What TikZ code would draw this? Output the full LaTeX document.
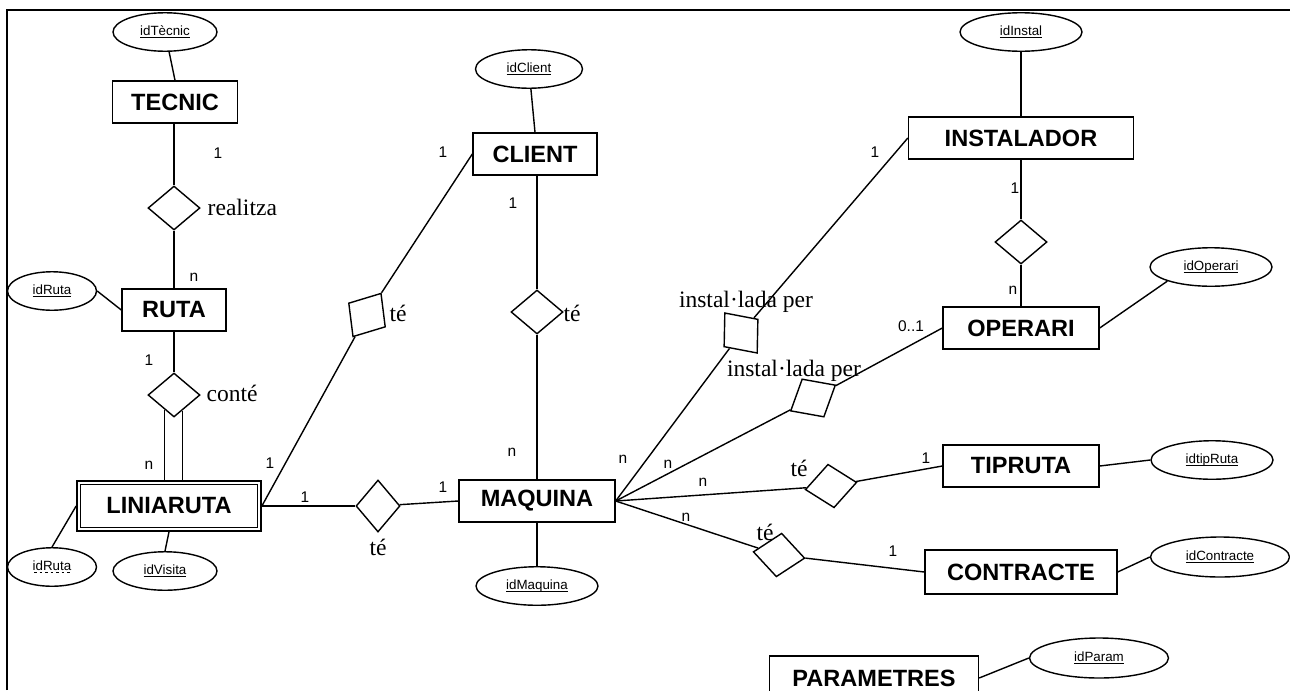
\documentclass[tikz,border=0pt]{standalone}
\usepackage{fontspec}
\setmainfont{Liberation Serif}
\setsansfont{Liberation Sans}
\usetikzlibrary{shapes.geometric,calc}
\newcommand{\keyund}[1]{\setbox0=\hbox{#1}\rlap{\rule[-1.4pt]{\wd0}{0.45pt}}\box0}
\newcommand{\dashund}[1]{\setbox0=\hbox{#1}\rlap{\raisebox{-1.4pt}{\hbox to\wd0{\xleaders\hbox to 3pt{\hss\vrule height 0.45pt width 1.6pt\hss}\hfil}}}\box0}

\begin{document}
\begin{tikzpicture}[x=0.02cm,y=-0.02cm,line width=0.8pt,
  ent/.style={draw,rectangle,minimum height=0.84cm,font=\sffamily\bfseries\fontsize{13.4}{15}\selectfont},
  attr/.style={draw,ellipse,minimum width=2.44cm,minimum height=0.77cm,font=\sffamily\fontsize{7.6}{9}\selectfont},
  rel/.style={draw,diamond,minimum width=1.04cm,minimum height=0.88cm},
  card/.style={font=\sffamily\fontsize{8.8}{10}\selectfont},
  rlab/.style={font=\fontsize{13.4}{15}\selectfont}]
\tikzstyle{every node}+=[inner sep=0pt]
\useasboundingbox (0,0) rectangle (1290,690);
\clip (0,0) rectangle (1290,690);
\draw[line width=1.4pt] (7,690) -- (7,10) -- (1290,10);
\node[ent,minimum width=2.5cm] (tecnic) at (175,102) {TECNIC};
\node[ent,minimum width=2.08cm] (ruta) at (174,310) {RUTA};
\node[ent,double,double distance=1.4pt,minimum width=3.61cm,minimum height=0.93cm,outer sep=1.5pt] (liniaruta) at (169,506) {LINIARUTA};
\node[ent,minimum width=2.48cm] (client) at (535,154) {CLIENT};
\node[ent,minimum width=3.12cm] (maquina) at (537,501) {MAQUINA};
\node[ent,minimum width=4.5cm] (instalador) at (1021,138) {INSTALADOR};
\node[ent,minimum width=3.12cm] (operari) at (1021,328) {OPERARI};
\node[ent,minimum width=3.12cm] (tipruta) at (1021,466) {TIPRUTA};
\node[ent,minimum width=3.84cm,minimum height=0.88cm] (contracte) at (1021,572) {CONTRACTE};
\node[ent,minimum width=4.18cm,minimum height=0.88cm] (parametres) at (874,678) {PARAMETRES};
\node[attr,minimum width=2.08cm] (idtecnic) at (165,32) {\keyund{idTècnic}};
\node[attr,minimum width=1.78cm] (idruta) at (52,291) {\keyund{idRuta}};
\node[attr,minimum width=1.78cm] (idruta2) at (52,567) {\dashund{idRuta}};
\node[attr,minimum width=2.08cm] (idvisita) at (165,571) {\keyund{idVisita}};
\node[attr,minimum width=2.14cm] (idclient) at (529,69) {\keyund{idClient}};
\node[attr] (idmaquina) at (537,586) {\keyund{idMaquina}};
\node[attr] (idinstal) at (1021,32) {\keyund{idInstal}};
\node[attr] (idoperari) at (1211,267) {\keyund{idOperari}};
\node[attr] (idtipruta) at (1212,460) {\keyund{idtipRuta}};
\node[attr,minimum width=2.78cm,minimum height=0.8cm] (idcontracte) at (1220,557) {\keyund{idContracte}};
\node[attr,minimum width=2.78cm,minimum height=0.8cm] (idparam) at (1099,658) {\keyund{idParam}};
\node[rel] (realitza) at (174,208) {};
\node[rel] (conte) at (174,395) {};
\node[rel,rotate=57] (te1) at (367,315) {};
\node[rel] (te2) at (537,312) {};
\node[rel,rotate=90] (te3) at (378,506) {};
\node[rel,rotate=129] (instper1) at (741,333) {};
\node[rel,rotate=30] (instper2) at (813,398) {};
\node[rel] (relop) at (1021,242) {};
\node[rel,rotate=8] (te4) at (831,486) {};
\node[rel,rotate=-7] (te5) at (779,555) {};
\node[rlab,anchor=west] (lrealitza) at (207,207) {realitza};
\node[rlab,anchor=west] (lconte) at (206,393) {conté};
\node[rlab] (lte1) at (398,313) {té};
\node[rlab] (lte2) at (572,313) {té};
\node[rlab] (lte3) at (378,547) {té};
\node[rlab] (linstper1) at (746,302) {instal·lada per};
\node[rlab] (linstper2) at (794,371) {instal·lada per};
\node[rlab] (lte4) at (799,468) {té};
\node[rlab] (lte5) at (765,532) {té};
\node[card] (c1) at (218,153) {1};
\node[card] (c2) at (194,277) {n};
\node[card] (c3) at (149,360) {1};
\node[card] (c4) at (149,465) {n};
\node[card] (c5) at (270,463) {1};
\node[card] (c6) at (443,152) {1};
\node[card] (c7) at (513,203) {1};
\node[card] (c8) at (512,452) {n};
\node[card] (c9) at (305,497) {1};
\node[card] (c10) at (443,487) {1};
\node[card] (c11) at (875,152) {1};
\node[card] (c12) at (1015,188) {1};
\node[card] (c13) at (1013,290) {n};
\node[card] (c14) at (911,326) {0..1};
\node[card] (c15) at (623,459) {n};
\node[card] (c16) at (668,464) {n};
\node[card] (c17) at (703,482) {n};
\node[card] (c18) at (686,517) {n};
\node[card] (c19) at (926,458) {1};
\node[card] (c20) at (893,551) {1};
\draw (idtecnic) -- (tecnic.north);
\draw (realitza) -- (realitza |- tecnic.south);
\draw (realitza) -- (ruta);
\draw (idruta.east) -- (ruta.west);
\draw (ruta) -- (conte);
\draw ($(conte.south)!0.7!(conte.south west)$) coordinate (dl) -- (dl |- liniaruta.north);
\draw ($(conte.south)!0.62!(conte.south east)$) coordinate (dr) -- (dr |- liniaruta.north);
\draw (idruta2.north) -- (liniaruta.west);
\draw (idvisita.north) -- (liniaruta.south);
\draw (liniaruta.east) -- (te1);
\draw (te1) -- (client.west);
\draw (idclient) -- (client.north);
\draw (te2) -- (te2 |- client.south);
\draw (te2) -- (maquina);
\draw (liniaruta) -- (te3);
\draw (te3) -- (maquina.west);
\draw (maquina) -- (idmaquina);
\draw (maquina.east) -- (instper1);
\draw (instper1) -- (instalador.west);
\draw (maquina.east) -- (instper2);
\draw (instper2) -- (operari.west);
\draw (maquina.east) -- (te4);
\draw (te4) -- (tipruta.west);
\draw (maquina.east) -- (te5);
\draw (te5) -- (contracte.west);
\draw (idinstal) -- (instalador);
\draw (instalador) -- (relop);
\draw (relop) -- (operari);
\draw (operari.east) -- (idoperari.south west);
\draw (tipruta.east) -- (idtipruta.west);
\draw (contracte.east) -- (idcontracte.west);
\draw (parametres.east) -- (idparam.west);
\end{tikzpicture}
\end{document}
